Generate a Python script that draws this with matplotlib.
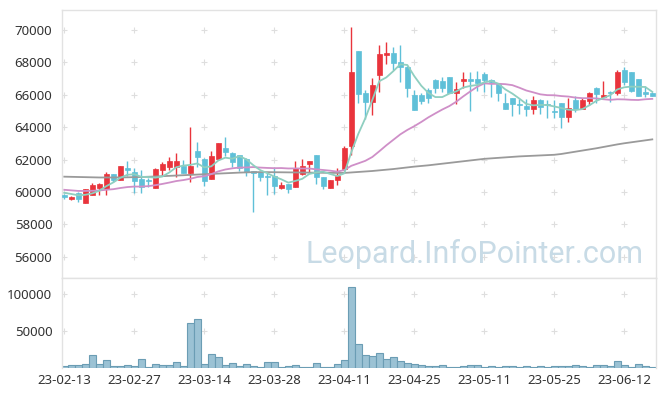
import matplotlib
matplotlib.use("Agg")
import matplotlib.pyplot as plt
import numpy as np
import pandas as pd

plt.rcParams['font.family'] = ['Noto Sans', 'DejaVu Sans']

# ---- data ----
opens = [59830, 59600, 59930, 59350, 59790, 60280, 60180, 61110, 60750, 61480,
         61260, 60810, 60750, 60280, 61360, 61570, 61570, 61630, 61200, 62540,
         62020, 60790, 62060, 62720, 62400, 62290, 62020, 61320, 61260, 61000,
         60990, 60280, 60500, 60300, 61090, 61760, 62290, 60910, 60280, 60750,
         61400, 62870, 68720, 66090, 65580, 67230, 68480, 68600, 68050, 67740,
         65990, 65990, 66300, 66920, 66820, 67080, 66130, 66880, 66980, 66980,
         67290, 66900, 66670, 65480, 65790, 65420, 65310, 65130, 65680, 65440,
         65000, 65480, 64650, 65680, 65150, 65640, 66400, 65890, 66130, 66130,
         67530, 67430, 66960, 66150, 66090]
highs = [59900, 59750, 60000, 60200, 60590, 60550, 61260, 61110, 61600, 61900,
         61470, 61390, 60870, 61470, 61850, 62170, 62440, 62000, 64000, 63070,
         62100, 62540, 63010, 63420, 62450, 62290, 62100, 61320, 61260, 61260,
         61530, 60650, 60500, 61900, 62030, 61900, 62290, 60910, 60750, 61470,
         62870, 70200, 68720, 66300, 67010, 69050, 69270, 68950, 69070, 67800,
         66300, 66100, 66400, 67000, 67100, 67080, 66760, 67380, 67380, 67450,
         67400, 66960, 66700, 66130, 65790, 65730, 65730, 65900, 65730, 65680,
         65680, 65480, 65790, 65900, 65790, 66200, 66500, 66820, 66250, 67550,
         67740, 67430, 66960, 66550, 66200]
lows = [59550, 59500, 59400, 59350, 59790, 59830, 59830, 60650, 60750, 61000,
        59920, 59950, 60300, 60280, 61000, 61380, 60950, 61180, 60650, 61570,
        60380, 60790, 62060, 62230, 61570, 61300, 61000, 58800, 60700, 59850,
        59860, 60180, 59930, 60300, 61050, 61200, 60500, 60170, 60280, 60440,
        61300, 62290, 65480, 64520, 64730, 66200, 67900, 67530, 66800, 65880,
        65070, 65450, 65480, 66100, 66150, 66130, 65420, 66400, 65000, 66250,
        66200, 65890, 65610, 65130, 64700, 64830, 64700, 64830, 64830, 64580,
        64580, 63960, 64340, 64930, 65150, 65400, 65500, 65890, 65580, 65990,
        66600, 66150, 65930, 65840, 65900]
closes = [59680, 59700, 59600, 60180, 60440, 60500, 61110, 60750, 61600, 61360,
          60690, 60300, 60690, 61400, 61730, 61920, 61920, 61200, 61610, 62190,
          60700, 62230, 63010, 62480, 61880, 61470, 61260, 61200, 60950, 60950,
          60400, 60440, 60170, 61470, 61610, 61900, 60910, 60400, 60750, 60990,
          62720, 67430, 66050, 65580, 66610, 68520, 68600, 67980, 67700, 66400,
          65070, 65640, 65790, 66400, 66400, 66130, 66340, 66980, 66880, 66710,
          66920, 66780, 66130, 65130, 65420, 65380, 65130, 65680, 65270, 65380,
          64940, 64650, 65170, 65150, 65680, 66090, 66050, 65990, 66090, 67430,
          66760, 66260, 65930, 66030, 65930]
volumes = [2250, 3600, 3600, 5000, 17100, 5000, 10350, 2250, 2250, 3600,
           2250, 11700, 900, 5000, 3600, 3600, 7650, 2250, 61650, 67000,
           5000, 18450, 14400, 3600, 6300, 2250, 5000, 2250, 900, 7650,
           7650, 900, 2250, 3600, 900, 900, 6300, 900, 900, 5000,
           10350, 109350, 32000, 17100, 15750, 19800, 11700, 14400, 9000, 6300,
           5000, 3600, 2250, 2250, 3600, 900, 900, 2250, 3600, 3600,
           900, 2250, 900, 2250, 2250, 900, 2250, 900, 2250, 900,
           2250, 2250, 2250, 3600, 2250, 900, 3600, 3600, 2250, 9000,
           3600, 900, 5000, 2250, 900]
# closes of the days before the window (estimated, for the moving averages)
pre_closes = [60400, 60300, 60200, 60220, 60100, 60250, 60050, 60150, 60200, 60060,
              60300, 60150, 60250, 60190, 60220, 60050, 60000, 60030, 60000]
# long moving average (grey line)
ma_long = [60950, 60940, 60930, 60920, 60910, 60900, 60900, 60900, 60905, 60910,
           60920, 60930, 60945, 60960, 60980, 61000, 61020, 61040, 61060, 61080,
           61100, 61120, 61140, 61160, 61180, 61200, 61215, 61230, 61230, 61230,
           61225, 61220, 61215, 61210, 61205, 61200, 61195, 61190, 61185, 61180,
           61180, 61210, 61240, 61270, 61300, 61340, 61380, 61420, 61470, 61520,
           61570, 61610, 61650, 61700, 61750, 61800, 61850, 61900, 61950, 62000,
           62050, 62080, 62110, 62140, 62170, 62200, 62220, 62240, 62260, 62280,
           62300, 62350, 62420, 62490, 62560, 62630, 62700, 62780, 62860, 62940,
           63010, 63070, 63130, 63190, 63250]
tick_labels = ["23-02-13", "23-02-27", "23-03-14", "23-03-28", "23-04-11",
               "23-04-25", "23-05-11", "23-05-25", "23-06-12"]

# ---- derived ----
n = len(closes)
x = np.arange(n)
allc = pd.Series(pre_closes + closes)
ma5 = allc.rolling(5).mean().values[len(pre_closes):]
ma20 = allc.rolling(20).mean().values[len(pre_closes):]
o = np.array(opens); c = np.array(closes); h = np.array(highs); l = np.array(lows)
up = c >= o
RED = '#e9343c'
BLUE = '#5fc0d8'
cols = np.where(up, RED, BLUE)

W, H = 665, 396
fig = plt.figure(figsize=(W / 100, H / 100), dpi=100)
ax = fig.add_axes([62 / W, 1 - 278 / H, 594 / W, 268 / H])
axv = fig.add_axes([62 / W, 1 - 368 / H, 594 / W, 90 / H], sharex=ax)

xlim = (-0.33, 84.53)
ylim = (54700, 71230)
yticks = list(range(56000, 70001, 2000))
xticks = list(range(0, 81, 10))

# grid crosses
ax.scatter(np.repeat(xticks, len(yticks)), np.tile(yticks, len(xticks)),
           marker='+', s=18, color='#dedede', linewidths=0.8, zorder=0)

# candles
ax.vlines(x, l, h, colors=cols, linewidth=1.0, zorder=2)
body_bottom = np.minimum(o, c)
body_h = np.maximum(np.abs(c - o), 70)
ax.bar(x, body_h, bottom=body_bottom, width=0.72, color=cols, edgecolor=cols,
       linewidth=0.5, zorder=3)

# moving averages
ax.plot(x, ma_long, color='#9a9a9a', lw=1.3, zorder=4)
ax.plot(x, ma20, color='#cf8fc8', lw=1.3, zorder=4)
ax.plot(x, ma5, color='#8fcfc0', lw=1.3, zorder=4)

ax.set_xlim(*xlim)
ax.set_ylim(*ylim)
ax.set_yticks(yticks)
ax.tick_params(axis='y', length=0, pad=7, labelsize=9.5, labelcolor='#333333')
ax.tick_params(axis='x', length=0, labelbottom=False)
for s in ax.spines.values():
    s.set_color('#e2e2e2')
    s.set_linewidth(1.0)

ax.text(0.695, 0.056, "Leopard.InfoPointer.com", transform=ax.transAxes,
        ha='center', va='baseline', fontsize=22, color='#c8dbe6', zorder=1,
        family=['Roboto', 'DejaVu Sans'])

# volume
vticks = [50000, 100000]
axv.scatter(np.repeat(xticks, len(vticks)), np.tile(vticks, len(xticks)),
            marker='+', s=18, color='#dedede', linewidths=0.8, zorder=0)
axv.bar(x, volumes, width=1.0, color='#9bc2d4', edgecolor='#6b9db4',
        linewidth=0.8, zorder=2)
axv.set_ylim(0, 122000)
axv.set_yticks(vticks)
axv.set_xticks(xticks)
axv.set_xticklabels(tick_labels)
axv.tick_params(axis='y', length=0, pad=7, labelsize=9.5, labelcolor='#333333')
axv.tick_params(axis='x', length=0, pad=4, labelsize=9.5, labelcolor='#333333')
for s in axv.spines.values():
    s.set_color('#e2e2e2')
    s.set_linewidth(1.0)
axv.spines['bottom'].set_visible(False)

fig.savefig('out.png', dpi=100, facecolor='white')
